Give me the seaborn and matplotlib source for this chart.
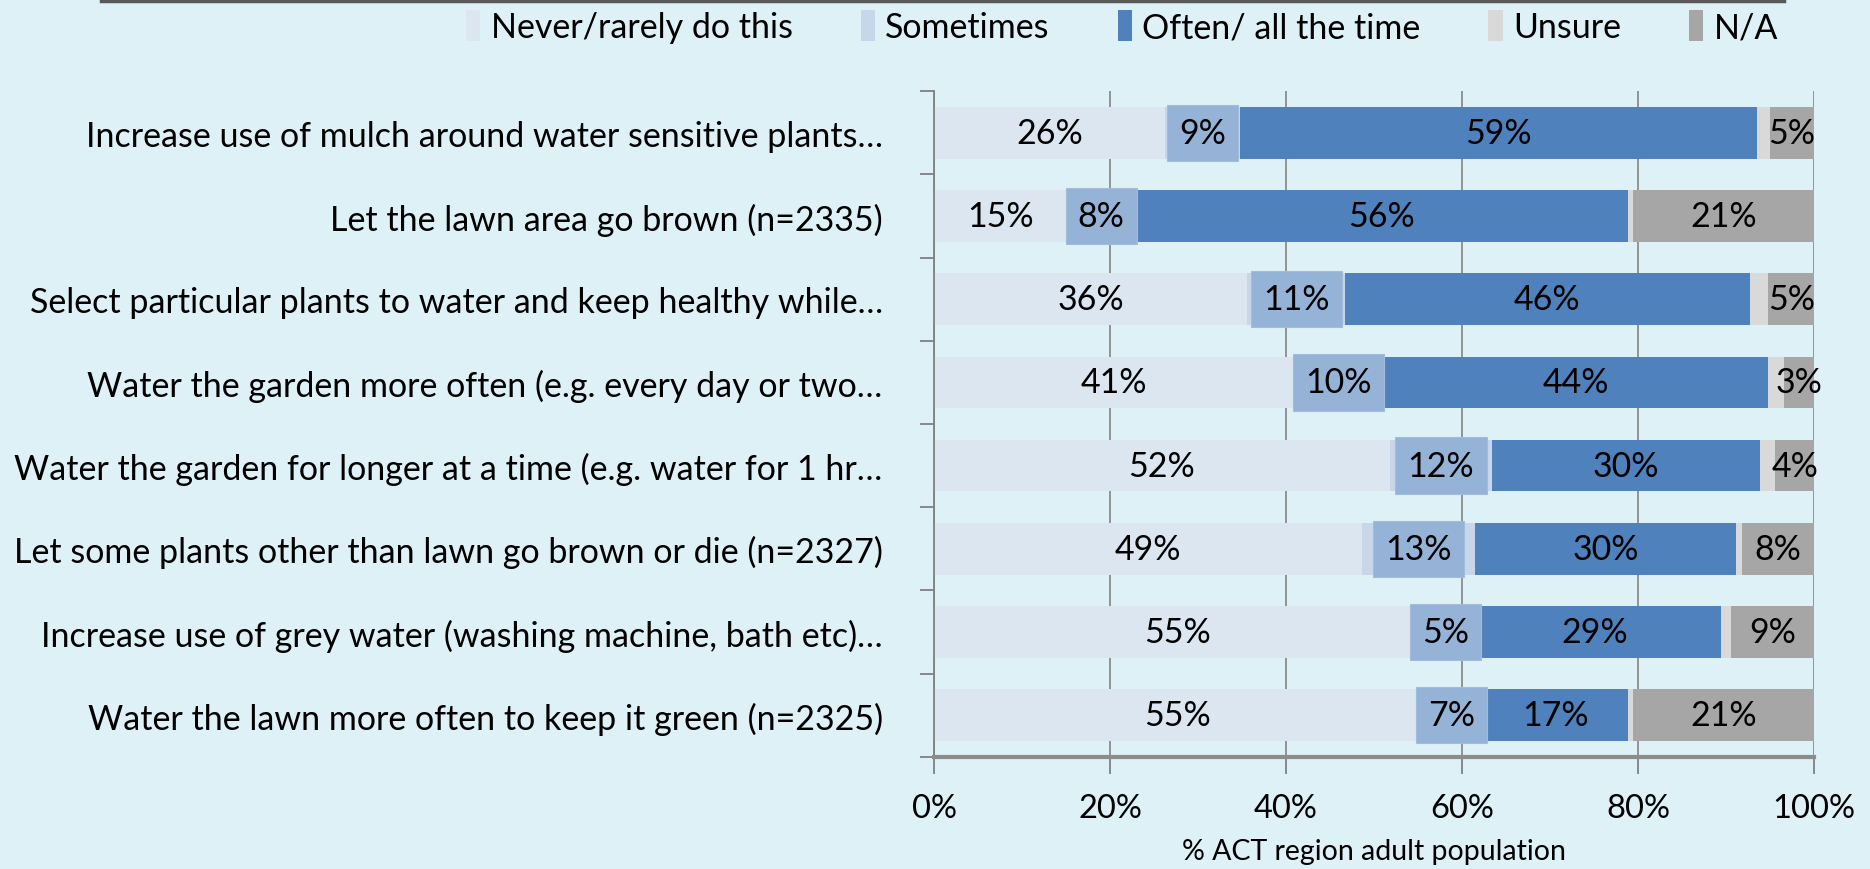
import numpy as np
import pandas as pd
import matplotlib
matplotlib.use('Agg')
import matplotlib.pyplot as plt
from matplotlib.patches import Patch
from matplotlib.lines import Line2D
import seaborn as sns

# dados
acoes = [
    'Increase use of mulch around water sensitive plants…',
    'Let the lawn area go brown (n=2335)',
    'Select particular plants to water and keep healthy while…',
    'Water the garden more often (e.g. every day or two…',
    'Water the garden for longer at a time (e.g. water for 1 hr…',
    'Let some plants other than lawn go brown or die (n=2327)',
    'Increase use of grey water (washing machine, bath etc)…',
    'Water the lawn more often to keep it green (n=2325)',
]
nunca = [26.2, 15.2, 35.6, 40.8, 51.8, 48.6, 55.4, 55.3]
as_vezes = [8.6, 7.6, 11.1, 10.3, 11.6, 12.9, 5.4, 7.0]
sempre = [58.7, 56.0, 46.0, 43.7, 30.4, 29.6, 28.6, 16.6]
incerto = [1.5, 0.6, 2.1, 1.8, 1.8, 0.7, 1.2, 0.5]
nao_aplica = [5.0, 20.6, 5.2, 3.4, 4.4, 8.2, 9.4, 20.6]

series = ['Never/rarely do this', 'Sometimes', 'Often/ all the time', 'Unsure', 'N/A']
cores = ['#dce6f1', '#c8d6ea', '#4f81bd', '#d9d9d9', '#a6a6a6']
cor_caixa = '#95b3d7'
fundo = '#ddf1f7'

df = pd.DataFrame({'acao': acoes, series[0]: nunca, series[1]: as_vezes,
                   series[2]: sempre, series[3]: incerto, series[4]: nao_aplica})
acumulado = df[series].cumsum(axis=1)

plt.rcParams['font.family'] = ['Lato', 'DejaVu Sans']
fig = plt.figure(figsize=(18.7, 8.7), dpi=100, facecolor=fundo)
ax = fig.add_axes([0.4995, 0.129, 0.4706, 0.765])
ax.set_facecolor(fundo)

largura = 0.62
# empilhado: desenha do total para o inicio
for serie, cor in reversed(list(zip(series, cores))):
    sns.barplot(x=acumulado[serie], y=df['acao'], orient='h', color=cor,
                saturation=1, width=largura, ax=ax, linewidth=0, zorder=2)

# rotulos
for i in range(len(acoes)):
    inicio = 0
    for j, serie in enumerate(series):
        v = df[serie][i]
        centro = inicio + v / 2
        inicio += v
        if serie == 'Unsure':
            continue
        txt = f'{v:.0f}%'
        if serie == 'Sometimes':
            ax.text(centro, i, txt, ha='center', va='center', fontsize=24.5, zorder=5,
                    bbox=dict(boxstyle='square,pad=0.36', facecolor=cor_caixa,
                              edgecolor='#a3bcdc', linewidth=0.8))
        else:
            ax.text(centro, i, txt, ha='center', va='center', fontsize=24.5, zorder=5)

ax.set_xlim(0, 100)
ax.set_ylim(len(acoes) - 0.5, -0.5)
ax.set_xticks([0, 20, 40, 60, 80, 100])
ax.set_xticklabels([f'{t}%' for t in [0, 20, 40, 60, 80, 100]])
ax.set_yticks(range(len(acoes)))
ax.set_yticklabels(acoes)
ax.set_yticks(np.arange(-0.5, len(acoes)), minor=True)
ax.tick_params(axis='y', which='major', length=0, pad=37, labelsize=24.5)
ax.tick_params(axis='y', which='minor', length=10, width=1.3, color='#808080')
ax.tick_params(axis='x', length=12, width=1.3, color='#808080', pad=14, labelsize=23.5)
ax.set_ylabel('')
ax.set_xlabel('% ACT region adult population', fontsize=20.5, labelpad=11)

ax.grid(axis='x', color='#8c8c8c', linewidth=1.3)
ax.grid(axis='y', visible=False)
ax.set_axisbelow(True)
for lado in ['top', 'right']:
    ax.spines[lado].set_visible(False)
ax.spines['left'].set_color('#808080')
ax.spines['left'].set_linewidth(1.3)
ax.spines['bottom'].set_color('#8c8c8c')
ax.spines['bottom'].set_linewidth(3)

handles = [Patch(facecolor=c, edgecolor='none') for c in cores]
ax.legend(handles, series, loc='center', bbox_to_anchor=(0.6, 0.968),
          bbox_transform=fig.transFigure, ncol=5, frameon=False, fontsize=24.5,
          handlelength=0.42, handleheight=1.0, handletextpad=0.3, columnspacing=2.0)

fig.add_artist(Line2D([0.054, 0.954], [0.998, 0.998], color='#595959', linewidth=2.5,
                      transform=fig.transFigure))

fig.savefig('out.png', dpi=100, facecolor=fundo)
